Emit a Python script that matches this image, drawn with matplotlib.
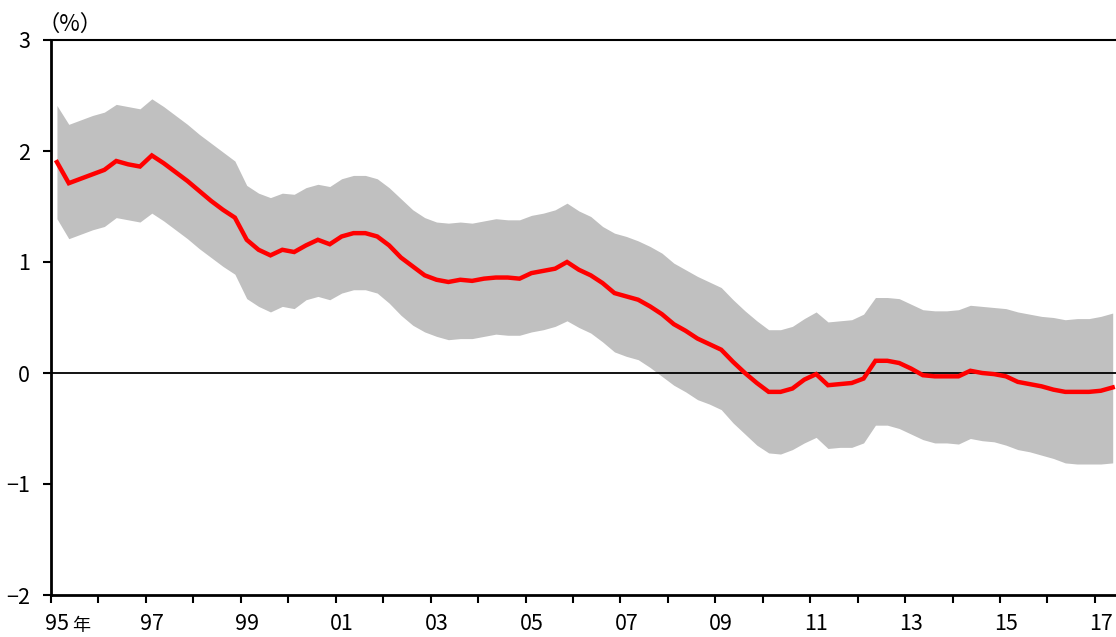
import matplotlib
matplotlib.use("Agg")
import matplotlib.pyplot as plt
import numpy as np

plt.rcParams['font.family'] = ['Liberation Sans Narrow', 'Noto Sans CJK JP', 'DejaVu Sans']

# Quarterly data 1995Q1 - 2017Q2
start_year = 1995
center = [1.90, 1.71, 1.75, 1.79, 1.83, 1.91, 1.88, 1.86, 1.96, 1.89,
          1.81, 1.73, 1.64, 1.55, 1.47, 1.40, 1.20, 1.11, 1.06, 1.11,
          1.09, 1.15, 1.20, 1.16, 1.23, 1.26, 1.26, 1.23, 1.15, 1.04,
          0.96, 0.88, 0.84, 0.82, 0.84, 0.83, 0.85, 0.86, 0.86, 0.85,
          0.90, 0.92, 0.94, 1.00, 0.93, 0.88, 0.81, 0.72, 0.69, 0.66,
          0.60, 0.53, 0.44, 0.38, 0.31, 0.26, 0.21, 0.10, 0.00, -0.09,
          -0.17, -0.17, -0.14, -0.06, -0.01, -0.11, -0.10, -0.09, -0.05, 0.11,
          0.11, 0.09, 0.04, -0.02, -0.03, -0.03, -0.03, 0.02, 0.00, -0.01,
          -0.03, -0.08, -0.10, -0.12, -0.15, -0.17, -0.17, -0.17, -0.16, -0.13]
upper = [2.41, 2.24, 2.28, 2.32, 2.35, 2.42, 2.40, 2.38, 2.47, 2.40,
         2.32, 2.24, 2.15, 2.07, 1.99, 1.91, 1.69, 1.62, 1.58, 1.62,
         1.61, 1.67, 1.70, 1.68, 1.75, 1.78, 1.78, 1.75, 1.67, 1.57,
         1.47, 1.40, 1.36, 1.35, 1.36, 1.35, 1.37, 1.39, 1.38, 1.38,
         1.42, 1.44, 1.47, 1.53, 1.46, 1.41, 1.32, 1.26, 1.23, 1.19,
         1.14, 1.08, 0.99, 0.93, 0.87, 0.82, 0.77, 0.66, 0.56, 0.47,
         0.39, 0.39, 0.42, 0.49, 0.55, 0.46, 0.47, 0.48, 0.53, 0.68,
         0.68, 0.67, 0.62, 0.57, 0.56, 0.56, 0.57, 0.61, 0.60, 0.59,
         0.58, 0.55, 0.53, 0.51, 0.50, 0.48, 0.49, 0.49, 0.51, 0.54]
lower = [1.39, 1.21, 1.25, 1.29, 1.32, 1.40, 1.38, 1.36, 1.44, 1.37,
         1.29, 1.21, 1.12, 1.04, 0.96, 0.89, 0.67, 0.60, 0.55, 0.60,
         0.58, 0.66, 0.69, 0.66, 0.72, 0.75, 0.75, 0.72, 0.63, 0.52,
         0.43, 0.37, 0.33, 0.30, 0.31, 0.31, 0.33, 0.35, 0.34, 0.34,
         0.37, 0.39, 0.42, 0.47, 0.41, 0.36, 0.28, 0.19, 0.15, 0.12,
         0.05, -0.03, -0.11, -0.17, -0.24, -0.28, -0.33, -0.45, -0.55, -0.65,
         -0.72, -0.73, -0.69, -0.63, -0.58, -0.68, -0.67, -0.67, -0.63, -0.47,
         -0.47, -0.50, -0.55, -0.60, -0.63, -0.63, -0.64, -0.59, -0.61, -0.62,
         -0.65, -0.69, -0.71, -0.74, -0.77, -0.81, -0.82, -0.82, -0.82, -0.81]
year_labels = ["95", "97", "99", "01", "03", "05", "07", "09", "11", "13", "15", "17"]
y_ticks = [-2, -1, 0, 1, 2, 3]
y_labels = ["\u22122", "\u22121", "0", "1", "2", "3"]

n = len(center)
x = start_year + (np.arange(n) + 0.5) / 4.0

fig = plt.figure(figsize=(11.16, 6.37), dpi=100)
ax = fig.add_axes([51 / 1116, 1 - 595 / 637, (1116 - 51) / 1116, 555 / 637])

ax.fill_between(x, lower, upper, color="#C0C0C0", linewidth=0, zorder=1)
ax.axhline(0, color="black", linewidth=1.3, zorder=2)
ax.plot(x, center, color="#FF0000", linewidth=3.2, zorder=3, solid_joinstyle="miter")

ax.set_xlim(start_year, start_year + (1116 - 51) / 47.45)
ax.set_ylim(-2, 3)

# year boundary ticks
ax.set_xticks(np.arange(1995, 2018))
ax.set_xticklabels([])
ax.tick_params(axis="x", which="major", direction="out", length=6, width=1.5, color="black")
# labels at Q1 of odd years
lab_pos = [1995 + 2 * k + 0.125 for k in range(len(year_labels))]
ax.set_xticks(lab_pos, minor=True)
ax.set_xticklabels(year_labels, minor=True)
ax.tick_params(axis="x", which="minor", length=0, pad=13, labelsize=15.5)

ax.set_yticks(y_ticks)
ax.set_yticklabels(y_labels)
ax.tick_params(axis="y", direction="out", length=6, width=1.5, pad=9, labelsize=15.5)

for s in ["left", "bottom"]:
    ax.spines[s].set_linewidth(2.0)
ax.spines["top"].set_linewidth(1.5)
ax.spines["right"].set_visible(False)

fig.text(70 / 1116, 1 - 24 / 637, "（%）", ha="center", va="center", fontsize=16,
         family=["Noto Sans CJK JP", "DejaVu Sans"])
fig.text(81 / 1116, 1 - 626 / 637, "年", ha="center", va="center", fontsize=13,
         family=["Noto Sans CJK JP", "DejaVu Sans"])

fig.savefig("out.png", dpi=100)
